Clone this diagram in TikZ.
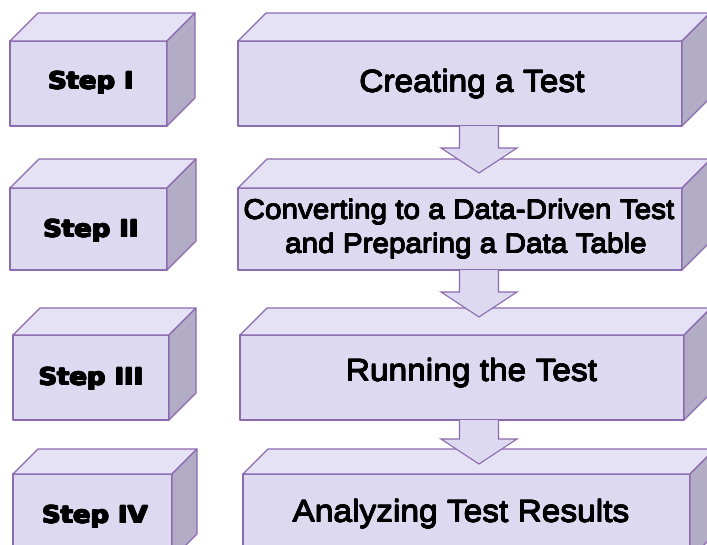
\documentclass[tikz,border=0pt]{standalone}
\usepackage{fontspec}
\usepackage[copies]{contour}
\contournumber{8}
\setmainfont{Liberation Sans}
\newfontfamily\stepfont{DejaVu Sans}[FakeStretch=1.1]
\newfontfamily\boxfont{Liberation Sans}[FakeStretch=1.08]
\usetikzlibrary{calc}
\definecolor{frontc}{RGB}{221,217,241}
\definecolor{topc}{RGB}{229,226,246}
\definecolor{sidec}{RGB}{178,172,198}
\definecolor{edgec}{RGB}{140,106,174}
\newcommand\heavy[2]{{\contourlength{#1}\contour{black}{#2}}}
\tikzset{
  face/.style={draw=edgec, line width=1.1pt, line join=round},
  frontface/.style={face, fill=frontc, rectangle, inner sep=0pt, outer sep=0pt},
  steptext/.style={font=\stepfont\bfseries\fontsize{23.5}{23.5}\selectfont, anchor=base, inner sep=0pt},
  maintext/.style={font=\boxfont\fontsize{31}{33}\selectfont, anchor=base, inner sep=0pt},
  twolinetext/.style={maintext, font=\boxfont\fontsize{27.5}{33}\selectfont},
  flowarrow/.style={draw=edgec, fill=frontc, line width=1.1pt, line join=miter},
}
\newcommand\boxdepth[2]{%
  \filldraw[face, fill=topc] (#1.north west) -- ++(#2,-#2) -- ($(#1.north east)+(#2,-#2)$) -- (#1.north east) -- cycle;
  \filldraw[face, fill=sidec] (#1.north east) -- ++(#2,-#2) -- ($(#1.south east)+(#2,-#2)$) -- (#1.south east) -- cycle;
}
\newcommand\flowarr[2]{%
  \filldraw[flowarrow] ($(#1.south -| #2)+(-19.5,0)$) -- ($(#2)+(-19.5,-25)$) -- ($(#2)+(-38,-25)$) -- (#2)
    -- ($(#2)+(38,-25)$) -- ($(#2)+(19.5,-25)$) -- ($(#1.south -| #2)+(19.5,0)$);
}
\begin{document}
\begin{tikzpicture}[x=1pt,y=-1pt]
\clip (0,0) rectangle (707,544);
\fill[white] (0,0) rectangle (707,544);
% row 1
\node[frontface, minimum width=157pt, minimum height=85pt] (s1) at (88.5,83.5) {};
\node[frontface, minimum width=444pt, minimum height=85pt] (b1) at (460,83.5) {};
\boxdepth{s1}{28}\boxdepth{b1}{28}
% row 2
\node[frontface, minimum width=157pt, minimum height=82pt] (s2) at (88.5,229) {};
\node[frontface, minimum width=444pt, minimum height=82pt] (b2) at (460,229) {};
\boxdepth{s2}{29}\boxdepth{b2}{29}
% row 3
\node[frontface, minimum width=156pt, minimum height=85pt] (s3) at (91,377.5) {};
\node[frontface, minimum width=444pt, minimum height=85pt] (b3) at (462,377.5) {};
\boxdepth{s3}{27}\boxdepth{b3}{27}
% row 4
\node[frontface, minimum width=159pt, minimum height=85pt] (s4) at (92.5,516.5) {};
\node[frontface, minimum width=447pt, minimum height=85pt] (b4) at (466.5,516.5) {};
\boxdepth{s4}{25}\boxdepth{b4}{25}
% arrows
\coordinate (t1) at (479,173);
\coordinate (t2) at (479,317);
\coordinate (t3) at (479,464);
\flowarr{b1}{t1}
\flowarr{b2}{t2}
\flowarr{b3}{t3}
% texts
\node[steptext] (l1) at (91,89) {\heavy{0.8pt}{Step I}};
\node[steptext] (l2) at (91,237) {\heavy{0.8pt}{Step II}};
\node[steptext] (l3) at (91,385) {\heavy{0.8pt}{Step III}};
\node[steptext] (l4) at (95,523) {\heavy{0.8pt}{Step IV}};
\node[maintext] (m1) at (472,92) {\heavy{0.35pt}{Creating a Test}};
\node[twolinetext] (m2a) at (459,219) {\heavy{0.35pt}{Converting to a Data-Driven Test}};
\node[twolinetext] (m2b) at (466,253) {\heavy{0.35pt}{and Preparing a Data Table}};
\node[maintext] (m3) at (471.5,381) {\heavy{0.35pt}{Running the Test}};
\node[maintext] (m4) at (461,522) {\heavy{0.35pt}{Analyzing Test Results}};
\end{tikzpicture}
\end{document}
